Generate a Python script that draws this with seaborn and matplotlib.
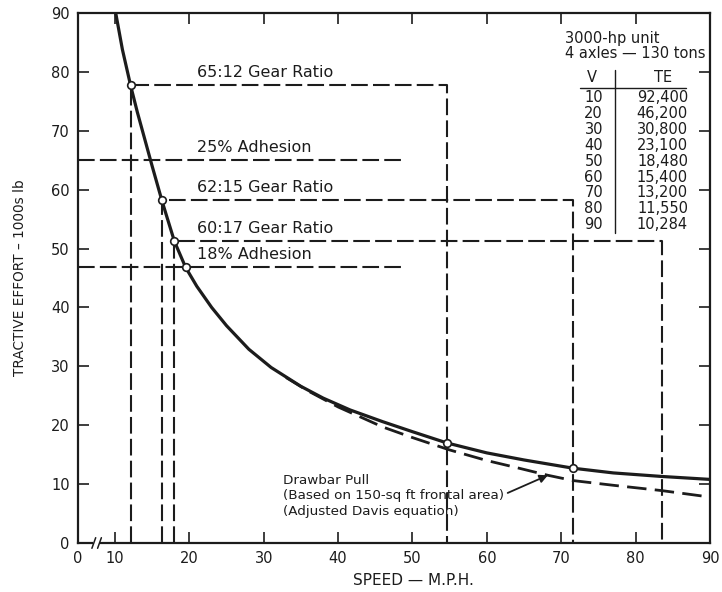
import numpy as np
import pandas as pd
import matplotlib
matplotlib.use("Agg")
import matplotlib.pyplot as plt
import seaborn as sns

# ---------------- data ----------------
te_speed = [10.1, 11.0, 12.1, 13.0, 14.0, 15.0, 16.3, 17.0, 18.0, 19.5, 21.0, 23.0,
            25.0, 28.0, 31.0, 35.0, 38.0, 41.6, 46.0, 50.0, 54.6, 60.0, 65.0, 71.6,
            77.0, 83.5, 90.0]
te_values = [90.0, 83.8, 77.7, 73.2, 68.6, 64.0, 58.2, 55.3, 51.2, 46.8, 43.6, 40.0,
             36.9, 32.9, 29.8, 26.6, 24.6, 22.6, 20.6, 18.9, 17.0, 15.3, 14.1, 12.7,
             11.9, 11.3, 10.8]

drawbar_speed = [33.0, 36.0, 40.0, 46.0, 50.0, 55.0, 60.0, 64.0, 68.2, 71.6, 77.0, 83.5, 90.0]
drawbar_values = [28.1, 25.8, 23.1, 19.7, 17.9, 15.8, 14.0, 12.8, 11.5, 10.6, 9.8, 8.9, 7.8]

gear_labels = ["65:12 Gear Ratio", "62:15 Gear Ratio", "60:17 Gear Ratio"]
gear_low_speed = [12.1, 16.3, 18.0]
gear_te = [77.7, 58.2, 51.2]
gear_high_speed = [54.6, 71.6, 83.5]

adhesion_labels = ["25% Adhesion", "18% Adhesion"]
adhesion_te = [65.0, 46.8]
adhesion_end_speed = [49.0, 49.0]

marker_speed = [12.1, 16.3, 18.0, 19.5, 54.6, 71.6]
marker_te = [77.7, 58.2, 51.2, 46.8, 17.0, 12.7]

table_v = ["10", "20", "30", "40", "50", "60", "70", "80", "90"]
table_te = ["92,400", "46,200", "30,800", "23,100", "18,480",
            "15,400", "13,200", "11,550", "10,284"]

x_ticks = [0, 10, 20, 30, 40, 50, 60, 70, 80, 90]
y_ticks = [0, 10, 20, 30, 40, 50, 60, 70, 80, 90]

# ---------------- style ----------------
sns.set_style("ticks")
plt.rcParams['font.family'] = ['DejaVu Sans']
INK = '#1c1c1c'

fig = plt.figure(figsize=(7.22, 5.92), dpi=100)
ax = fig.add_axes([78 / 722, 49 / 592, 632 / 722, 530 / 592])

# gear-ratio brackets
for lo, te, hi in zip(gear_low_speed, gear_te, gear_high_speed):
    df = pd.DataFrame({"speed": [lo, lo, hi, hi], "te": [0.0, te, te, 0.0]})
    sns.lineplot(data=df, x="speed", y="te", sort=False, estimator=None, ax=ax,
                 color=INK, lw=1.5, linestyle=(0, (8, 2.5)), zorder=2)

# adhesion lines
for te, end in zip(adhesion_te, adhesion_end_speed):
    df = pd.DataFrame({"speed": [0.0, end], "te": [te, te]})
    sns.lineplot(data=df, x="speed", y="te", sort=False, estimator=None, ax=ax,
                 color=INK, lw=1.5, linestyle=(0, (8, 2.5)), zorder=2)

# drawbar pull (dashed)
sns.lineplot(x=drawbar_speed, y=drawbar_values, sort=False, estimator=None, ax=ax,
             color=INK, lw=2.0, linestyle=(0, (7, 3)), zorder=3)

# tractive effort (solid)
sns.lineplot(x=te_speed, y=te_values, sort=False, estimator=None, ax=ax,
             color=INK, lw=2.3, zorder=4)

# markers
sns.scatterplot(x=marker_speed, y=marker_te, ax=ax, s=30, color="white",
                edgecolor=INK, linewidth=1.2, zorder=6)

# broken x axis scale: 0..10 compressed
def fwd(v):
    v = np.asarray(v, dtype=float)
    return np.where(v >= 10, v, 10 - (10 - v) * 0.497)

def inv(u):
    u = np.asarray(u, dtype=float)
    return np.where(u >= 10, u, 10 - (10 - u) / 0.497)

ax.set_xscale("function", functions=(fwd, inv))
ax.set_xlim(0, 90)
ax.set_ylim(0, 90)
ax.set_xticks(x_ticks)
ax.set_yticks(y_ticks)
ax.set_xticklabels([str(t) for t in x_ticks])
ax.set_yticklabels([str(t) for t in y_ticks])
ax.minorticks_off()

ax.tick_params(direction="in", length=8, width=1.2, top=True, right=True,
               labelsize=10.5, pad=6, colors=INK)
for s in ax.spines.values():
    s.set_linewidth(1.6)
    s.set_color(INK)

ax.set_xlabel("SPEED — M.P.H.", fontsize=11, color=INK)
ax.xaxis.set_label_coords(0.53, -0.07)
ax.xaxis.label.set_va("center")
ax.set_ylabel("TRACTIVE EFFORT – 1000s lb", fontsize=9.8, color=INK)
ax.yaxis.label.set_va("center")
ax.yaxis.set_label_coords(-0.092, 0.5)

# axis break marks
ax.plot([0.024, 0.035], [0, 0], transform=ax.transAxes, color="white", lw=3,
        clip_on=False, zorder=10, solid_capstyle="butt")
for x0 in (0.022, 0.031):
    ax.plot([x0, x0 + 0.006], [-0.010, 0.010], transform=ax.transAxes, color=INK,
            lw=1.1, clip_on=False, zorder=11)

# labels on lines
for lab, te in zip(gear_labels, gear_te):
    ax.text(21.0, te + 0.9, lab, fontsize=11.5, color=INK, ha="left", va="bottom")
for lab, te in zip(adhesion_labels, adhesion_te):
    ax.text(21.0, te + 0.9, lab, fontsize=11.5, color=INK, ha="left", va="bottom")

ax.text(32.6, 8.0, "Drawbar Pull\n(Based on 150-sq ft frontal area)\n(Adjusted Davis equation)",
        fontsize=9.7, color=INK, ha="left", va="center", linespacing=1.25)
ax.annotate("", xy=(68.2, 11.5), xytext=(62.8, 8.5),
            arrowprops=dict(arrowstyle="-|>", lw=1.3, color=INK, mutation_scale=12,
                            shrinkA=0, shrinkB=0))

# table
def fx(px):
    return (px - 78) / 632

def fy(py):
    return (543 - py) / 530

ax.text(fx(565), fy(38), "3000-hp unit", transform=ax.transAxes, fontsize=10.5,
        color=INK, ha="left", va="center")
ax.text(fx(565), fy(53), "4 axles — 130 tons", transform=ax.transAxes, fontsize=10.5,
        color=INK, ha="left", va="center")
ax.text(fx(592), fy(77), "V", transform=ax.transAxes, fontsize=10.5, color=INK,
        ha="center", va="center")
ax.text(fx(663), fy(77), "TE", transform=ax.transAxes, fontsize=10.5, color=INK,
        ha="center", va="center")
ax.plot([fx(580), fx(686)], [fy(88), fy(88)], transform=ax.transAxes, color=INK, lw=1.0)
ax.plot([fx(615), fx(615)], [fy(70), fy(233)], transform=ax.transAxes, color=INK, lw=1.0)
for i, (v, te) in enumerate(zip(table_v, table_te)):
    yy = fy(98 + 15.8 * i)
    ax.text(fx(603), yy, v, transform=ax.transAxes, fontsize=10.5, color=INK,
            ha="right", va="center")
    ax.text(fx(688), yy, te, transform=ax.transAxes, fontsize=10.5, color=INK,
            ha="right", va="center")

fig.savefig("out.png", dpi=100)
